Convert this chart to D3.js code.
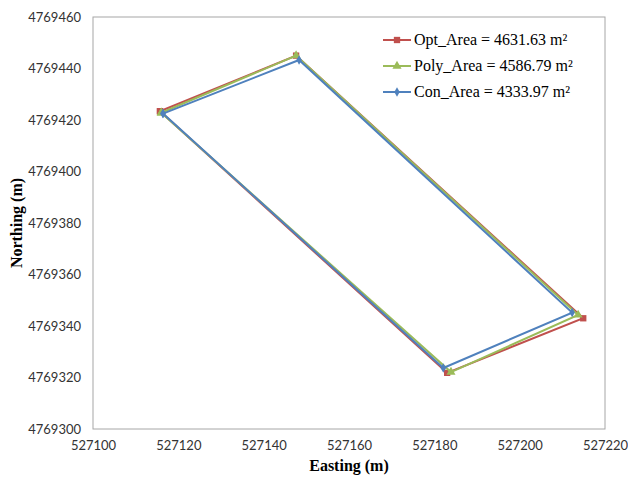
<!DOCTYPE html>
<html><head><meta charset="utf-8">
<script src="https://cdn.jsdelivr.net/npm/d3@7/dist/d3.min.js"></script>
<style>body{margin:0;background:#fff}svg{display:block}</style>
</head><body>
<script>
const seriesNames = ["Opt_Area = 4631.63 m²", "Poly_Area = 4586.79 m²", "Con_Area = 4333.97 m²"];
const seriesColors = ["#C0504D", "#9BBB59", "#4F81BD"];
const optE = [527115.7, 527147.6, 527214.9, 527183.0, 527115.7];
const optN = [4769423.4, 4769445.0, 4769343.0, 4769321.8, 4769423.4];
const polyE = [527116.0, 527147.6, 527213.7, 527183.9, 527116.0];
const polyN = [4769422.8, 4769445.0, 4769344.3, 4769322.1, 4769422.8];
const conE = [527116.4, 527148.3, 527212.3, 527182.1, 527116.4];
const conN = [4769422.5, 4769443.3, 4769345.2, 4769323.7, 4769422.5];
const xTicks = [527100, 527120, 527140, 527160, 527180, 527200, 527220];
const yTicks = [4769300, 4769320, 4769340, 4769360, 4769380, 4769400, 4769420, 4769440, 4769460];

const W = 628, H = 482;
const L = 93, R = 605, T = 17, B = 429;
const svg = d3.select("body").append("svg").attr("width", W).attr("height", H);
const x = d3.scaleLinear().domain([527100, 527220]).range([L, R]);
const y = d3.scaleLinear().domain([4769300, 4769460]).range([B, T]);

svg.append("rect").attr("x", L).attr("y", T).attr("width", R - L).attr("height", B - T)
  .attr("fill", "none").attr("stroke", "#a6a6a6").attr("stroke-width", 1);

const xAxis = svg.append("g").attr("transform", `translate(0,${B})`)
  .call(d3.axisBottom(x).tickValues(xTicks).tickSize(0).tickPadding(12).tickFormat(d3.format("d")));
xAxis.select(".domain").remove();
xAxis.selectAll("text").attr("font-family", "Lato, 'Open Sans', sans-serif").attr("font-size", 13).attr("fill", "#333");

const yAxis = svg.append("g").attr("transform", `translate(${L},0)`)
  .call(d3.axisLeft(y).tickValues(yTicks).tickSize(0).tickPadding(12).tickFormat(d3.format("d")));
yAxis.select(".domain").remove();
yAxis.selectAll("text").attr("font-family", "Lato, 'Open Sans', sans-serif").attr("font-size", 13).attr("fill", "#333");

svg.append("text").attr("x", (L + R) / 2).attr("y", 471).attr("text-anchor", "middle")
  .attr("font-family", "'Liberation Serif', serif").attr("font-weight", "bold").attr("font-size", 16).text("Easting (m)");
svg.append("text").attr("transform", `translate(22,${(T + B) / 2}) rotate(-90)`).attr("text-anchor", "middle")
  .attr("font-family", "'Liberation Serif', serif").attr("font-weight", "bold").attr("font-size", 16).text("Northing (m)");

const data = [
  optE.map((e, i) => [e, optN[i]]),
  polyE.map((e, i) => [e, polyN[i]]),
  conE.map((e, i) => [e, conN[i]])
];
const line = d3.line().x(d => x(d[0])).y(d => y(d[1]));
const symbols = [d3.symbolSquare, d3.symbolTriangle, d3.symbolDiamond];
const symSizes = [40, 36, 26];

data.forEach((pts, k) => {
  const g = svg.append("g");
  g.append("path").attr("d", line(pts)).attr("fill", "none").attr("stroke", seriesColors[k]).attr("stroke-width", 2);
  g.selectAll("path.m").data(pts).join("path").attr("class", "m")
    .attr("transform", d => `translate(${x(d[0])},${y(d[1])})`)
    .attr("d", d3.symbol().type(symbols[k]).size(symSizes[k]))
    .attr("fill", seriesColors[k]);
});

const leg = svg.append("g");
seriesNames.forEach((name, k) => {
  const yy = 40 + k * 26;
  leg.append("line").attr("x1", 383).attr("x2", 411).attr("y1", yy).attr("y2", yy)
    .attr("stroke", seriesColors[k]).attr("stroke-width", 2);
  leg.append("path").attr("transform", `translate(397,${yy})`)
    .attr("d", d3.symbol().type(symbols[k]).size(symSizes[k])).attr("fill", seriesColors[k]);
  leg.append("text").attr("x", 414).attr("y", yy + 5)
    .attr("font-family", "'Liberation Serif', serif").attr("font-size", 16).attr("fill", "#000").text(name);
});
</script>
</body></html>
